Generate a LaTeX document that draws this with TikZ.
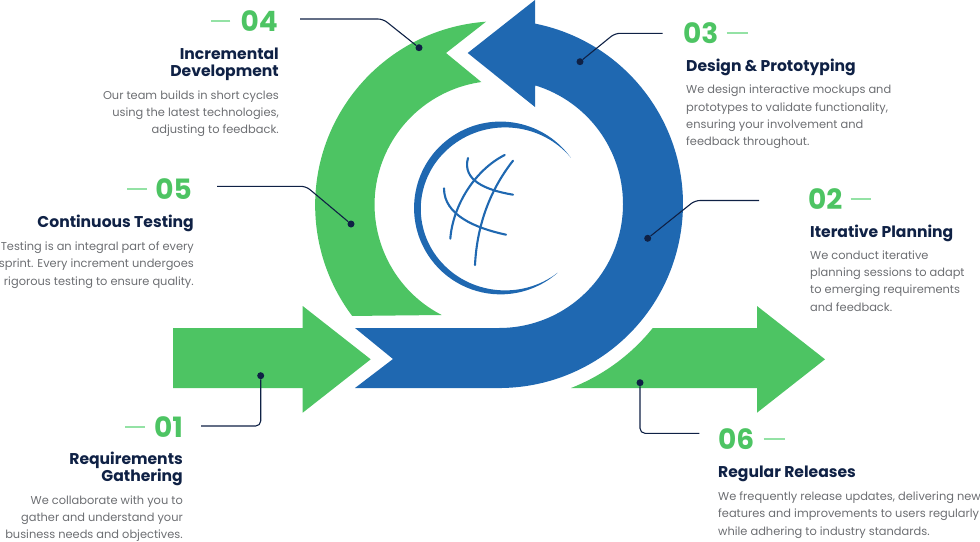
\documentclass[tikz,border=0pt]{standalone}
\usepackage{fontspec}
\setmainfont{Poppins}
\definecolor{Leaf}{HTML}{4DC463}
\definecolor{Pale}{HTML}{94E2A5}
\definecolor{Ocean}{HTML}{1F68B1}
\definecolor{Navy}{HTML}{0F2145}
\definecolor{Slate}{HTML}{6C6E72}
\tikzset{
  numlabel/.style={inner sep=0pt,text=Leaf,font=\fontsize{28}{28}\bfseries\selectfont},
  titlelabel/.style={inner sep=0pt,text=Navy,font=\fontsize{15.6}{17.6}\bfseries\selectfont},
  bodylabel/.style={inner sep=0pt,text=Slate,font=\fontsize{11.4}{17.3}\selectfont},
  tickline/.style={Pale,line width=1.2pt},
  leader/.style={Navy,line width=1.1pt,rounded corners=5pt},
  leaddot/.style={circle,fill=Navy,inner sep=0pt,minimum size=7pt},
  gridline/.style={Ocean,line width=2.1pt,line cap=round}
}
\begin{document}
\begin{tikzpicture}[x=1pt,y=-1pt]
    \useasboundingbox (0,0) rectangle (980,541);
    % arrows
    \fill[Leaf] (173,328)--(302.7,328)--(302.7,306)--(370.7,359.3)--(302.7,412.7)--(302.7,388)--(173,388)--cycle;
    \fill[Leaf] (571,388) arc[start angle=-68.6,end angle=-38.9,radius=197.5pt]--(757,328)--(757,306)--(825,359.3)--(757,412.7)--(757,388)--cycle;
    \fill[Leaf] (486,21.7) arc[start angle=94.1,end angle=217,radius=184pt]--(441.7,315) arc[start angle=242.7,end angle=98,radius=124pt]--(446,53)--cycle;
    \fill[Ocean] (355,328)--(499,328) arc[start angle=-90,end angle=73,radius=124pt]--(535,107)--(467.7,53)--(535,0)--(535,23.6) arc[start angle=78.7,end angle=-90,radius=184pt]--(355,388)--(393,359)--cycle;
    % globe
    \fill[Ocean] (570,156.7) arc[start angle=36.4,end angle=311.5,radius=86.4pt] arc[start angle=308.5,end angle=39,x radius=84.4pt,y radius=81.5pt]--cycle;
    \draw[gridline] (504.7,155) .. controls (475,170) and (453,205) .. (450.3,238.7);
    \draw[gridline] (513,160.7) .. controls (490,190) and (477,225) .. (475,265);
    \draw[gridline] (468,158) .. controls (462,180) and (485,190) .. (513,194.7);
    \draw[gridline] (444,188.3) .. controls (444,215) and (475,228) .. (506,234.7);
    % dots
    \node[leaddot] (dotA) at (260.7,375.7) {};
    \node[leaddot] (dotB) at (647.7,238.3) {};
    \node[leaddot] (dotC) at (580,61.7) {};
    \node[leaddot] (dotD) at (419,47.7) {};
    \node[leaddot] (dotE) at (351,224) {};
    \node[leaddot] (dotF) at (640,382.7) {};
    \coordinate (startA) at (201,426);
    \coordinate (startB) at (759,200.5);
    \coordinate (startC) at (662.7,33.3);
    \coordinate (startD) at (300,19);
    \coordinate (startE) at (217,186.3);
    \coordinate (startF) at (699.3,433.3);
    \draw[leader] (startA)-|(dotA);
    \draw[leader] (startB)--(695,200.5)--(dotB);
    \draw[leader] (startC)--(615,33.3)--(dotC);
    \draw[leader] (startD)--(383,19)--(dotD);
    \draw[leader] (startE)--(306,186.3)--(dotE);
    \draw[leader] (startF)-|(dotF);
    % 01
    \node[numlabel,anchor=east] (numA) at (183,427) {01};
    \draw[tickline] ([xshift=-9pt]numA.west)--++(-20pt,0);
    \node[titlelabel,anchor=north east,align=right] (titleA) at (183,451.5) {Requirements\\Gathering};
    \node[bodylabel,anchor=north east,align=right] (bodyA) at (183,495.5) {We collaborate with you to\\gather and understand your\\business needs and objectives.};
    % 02
    \node[numlabel,anchor=west] (numB) at (808,199) {02};
    \draw[tickline] ([xshift=8pt]numB.east)--++(20pt,0);
    \node[titlelabel,anchor=north west,align=left] (titleB) at (810,224.5) {Iterative Planning};
    \node[bodylabel,anchor=north west,align=left] (bodyB) at (810,250.5) {We conduct iterative\\planning sessions to adapt\\to emerging requirements\\and feedback.};
    % 03
    \node[numlabel,anchor=west] (numC) at (683,33) {03};
    \draw[tickline] ([xshift=8pt]numC.east)--++(21pt,0);
    \node[titlelabel,anchor=north west,align=left] (titleC) at (686,59) {Design \& Prototyping};
    \node[bodylabel,anchor=north west,align=left] (bodyC) at (686,85) {We design interactive mockups and\\prototypes to validate functionality,\\ensuring your involvement and\\feedback throughout.};
    % 04
    \node[numlabel,anchor=east] (numD) at (278,21) {04};
    \draw[tickline] ([xshift=-10pt]numD.west)--++(-19pt,0);
    \node[titlelabel,anchor=north east,align=right] (titleD) at (279,47.5) {Incremental\\Development};
    \node[bodylabel,anchor=north east,align=right] (bodyD) at (279,90.5) {Our team builds in short cycles\\using the latest technologies,\\adjusting to feedback.};
    % 05
    \node[numlabel,anchor=east] (numE) at (192,189) {05};
    \draw[tickline] ([xshift=-8pt]numE.west)--++(-20pt,0);
    \node[titlelabel,anchor=north east,align=right] (titleE) at (194,214.5) {Continuous Testing};
    \node[bodylabel,anchor=north east,align=right] (bodyE) at (194,241.5) {Testing is an integral part of every\\sprint. Every increment undergoes\\rigorous testing to ensure quality.};
    % 06
    \node[numlabel,anchor=west] (numF) at (718,439) {06};
    \draw[tickline] ([xshift=9pt]numF.east)--++(21pt,0);
    \node[titlelabel,anchor=north west,align=left] (titleF) at (718,465.5) {Regular Releases};
    \node[bodylabel,anchor=north west,align=left] (bodyF) at (718,491.5) {We frequently release updates, delivering new\\features and improvements to users regularly\\while adhering to industry standards.};
  \end{tikzpicture}
\end{document}
